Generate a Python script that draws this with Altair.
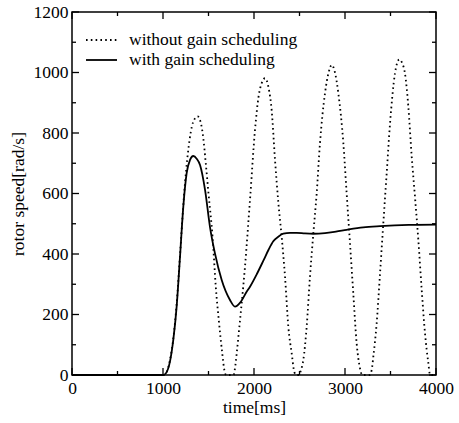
import altair as alt
import pandas as pd

# ---- data ----
series_names = ["without gain scheduling", "with gain scheduling"]

t_without = [0, 1000, 1030, 1077, 1113, 1150, 1190, 1230, 1280, 1330, 1380, 1410, 1440,
             1470, 1500, 1545, 1580, 1615, 1650, 1675, 1695, 1775, 1790, 1810, 1846, 1901,
             1956, 2011, 2050, 2085, 2121, 2160, 2194, 2231, 2268, 2304, 2341, 2377, 2414,
             2443, 2465, 2495, 2515, 2542, 2579, 2615, 2652, 2689, 2725, 2780, 2820, 2854,
             2890, 2927, 2982, 3018, 3055, 3091, 3128, 3165, 3190, 3270, 3293, 3311, 3348,
             3385, 3421, 3458, 3495, 3549, 3597, 3630, 3659, 3696, 3733, 3769, 3806, 3843,
             3879, 3916, 3935, 4000]
v_without = [0, 0, 5, 50, 120, 235, 410, 590, 750, 835, 855, 840, 790,
             700, 600, 455, 292, 175, 75, 15, 0, 0, 20, 72, 180, 358,
             579, 810, 920, 965, 981, 950, 876, 711, 568, 457, 325, 160, 72,
             10, 0, 0, 15, 50, 160, 325, 468, 601, 766, 931, 1000, 1025,
             1000, 931, 766, 601, 435, 270, 105, 22, 0, 0, 16, 60, 171,
             336, 501, 667, 832, 997, 1043, 1030, 997, 887, 722, 589, 446, 281,
             138, 39, 0, 0]

t_with = [0, 1000, 1030, 1077, 1113, 1150, 1187, 1223, 1260, 1297, 1333, 1370, 1407,
          1462, 1516, 1571, 1645, 1736, 1791, 1850, 1919, 1956, 2030, 2103, 2160, 2212,
          2270, 2322, 2396, 2469, 2560, 2652, 2780, 2900, 3018, 3200, 3385, 3700, 4000]
v_with = [0, 0, 5, 45, 116, 226, 391, 556, 667, 711, 724, 715, 694,
          612, 490, 402, 314, 248, 226, 240, 275, 292, 333, 378, 414, 442,
          458, 467, 470, 470, 468, 467, 469, 474, 480, 488, 492, 496, 497]

x_major = [0, 1000, 2000, 3000, 4000]
x_minor = [500, 1500, 2500, 3500]
y_major = [0, 200, 400, 600, 800, 1000, 1200]
y_minor = [100, 300, 500, 700, 900, 1100]

# ---- chart ----
W, H = 364, 363
FONT = "Liberation Serif"
FS = 17.5
MAJOR, MINOR = 7, 4
DOT = [1.6, 3.2]

xs = alt.Scale(domain=[0, 4000], nice=False, zero=False)
ys = alt.Scale(domain=[0, 1200], nice=False, zero=False)

axis_style = dict(
    labelFont=FONT, labelFontSize=FS, labelColor="black", labelFlush=False,
    labelOverlap=False,
    titleFont=FONT, titleFontSize=FS, titleColor="black", titleFontWeight="normal",
    ticks=False, domain=False, grid=False, labelPadding=4, format="d",
)

df_wo = pd.DataFrame({"t": t_without, "v": v_without})
df_w = pd.DataFrame({"t": t_with, "v": v_with})

line_wo = alt.Chart(df_wo).mark_line(
    interpolate="monotone", color="black", strokeWidth=1.8, strokeDash=DOT
).encode(
    x=alt.X("t:Q", scale=xs,
            axis=alt.Axis(values=x_major, title="time[ms]", titlePadding=2, **axis_style)),
    y=alt.Y("v:Q", scale=ys,
            axis=alt.Axis(values=y_major, title="rotor speed[rad/s]", titlePadding=6, **axis_style)),
)

line_w = alt.Chart(df_w).mark_line(
    interpolate="monotone", color="black", strokeWidth=1.8
).encode(
    x=alt.X("t:Q", scale=xs),
    y=alt.Y("v:Q", scale=ys),
)


def xticks(vals, length, top):
    y0 = 0 if top else H
    y1 = length if top else H - length
    return alt.Chart(pd.DataFrame({"t": vals})).mark_rule(color="black", strokeWidth=1.3).encode(
        x=alt.X("t:Q", scale=xs), y=alt.value(y0), y2=alt.value(y1))


def yticks(vals, length, right):
    x0 = W if right else 0
    x1 = W - length if right else length
    return alt.Chart(pd.DataFrame({"v": vals})).mark_rule(color="black", strokeWidth=1.3).encode(
        y=alt.Y("v:Q", scale=ys), x=alt.value(x0), x2=alt.value(x1))


ticks = [
    xticks(x_major, MAJOR, False), xticks(x_minor, MINOR, False),
    xticks(x_major, MAJOR, True), xticks(x_minor, MINOR, True),
    yticks(y_major, MAJOR, False), yticks(y_minor, MINOR, False),
    yticks(y_major, MAJOR, True), yticks(y_minor, MINOR, True),
]


# ---- legend (drawn inside the plot, top-left) ----
def legend_entry(name, row, dash):
    y = 28 + 20 * row
    d = pd.DataFrame({"series": [name]})
    kw = dict(color="black", strokeWidth=1.8)
    if dash is not None:
        kw["strokeDash"] = dash
    sample = alt.Chart(d).mark_rule(**kw).encode(
        x=alt.value(14), x2=alt.value(45), y=alt.value(y))
    label = alt.Chart(d).mark_text(
        align="left", baseline="middle", font=FONT, fontSize=FS, color="black"
    ).encode(x=alt.value(57), y=alt.value(y), text="series:N")
    return [sample, label]


legend = legend_entry(series_names[0], 0, DOT) + legend_entry(series_names[1], 1, None)

chart = alt.layer(line_wo, line_w, *ticks, *legend).properties(
    width=W, height=H,
    padding={"left": 72, "top": 12, "right": 23, "bottom": 48},
    autosize=alt.AutoSizeParams(type="none"),
    background="white",
).configure_view(
    stroke="black", strokeWidth=1.5
)

chart.save("out.html", embed_options={"renderer": "svg", "actions": False})
